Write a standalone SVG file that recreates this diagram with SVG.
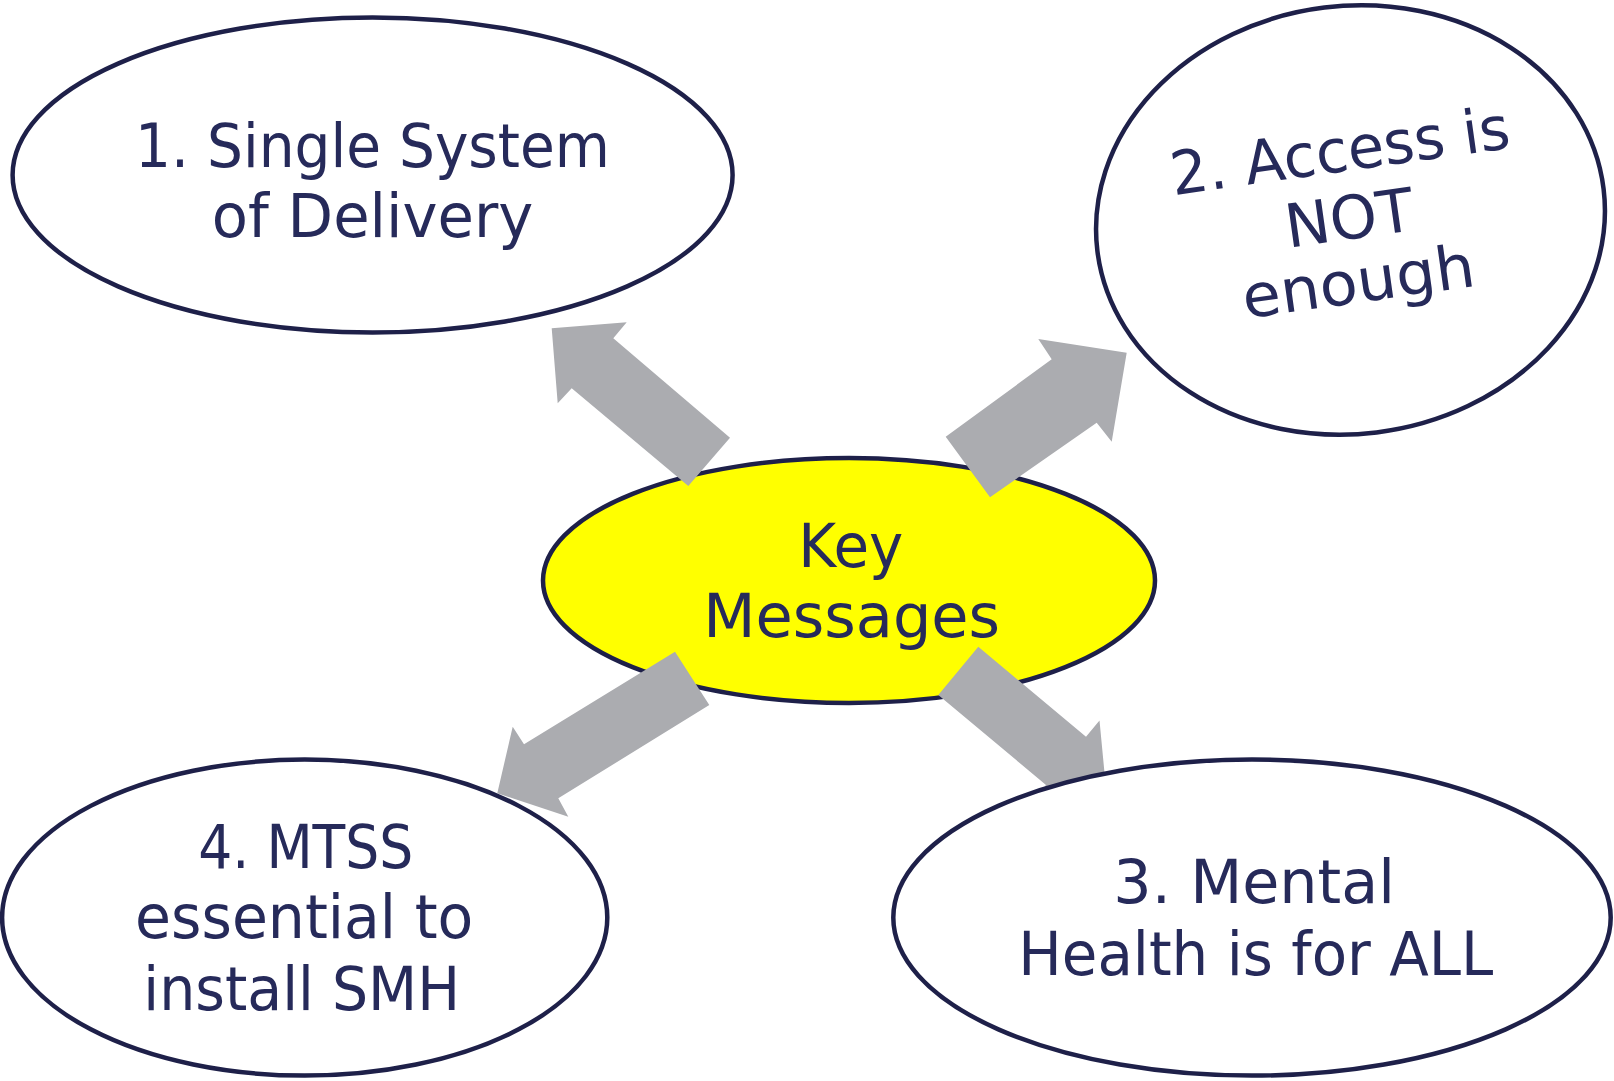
<svg xmlns="http://www.w3.org/2000/svg" width="1614" height="1081" viewBox="0 0 1614 1081">
<style>
.node{fill:#ffffff;stroke:#1e2049;stroke-width:4.5}
.key{fill:#ffff00;stroke:#1e2049;stroke-width:4.5}
.t{font-family:"DejaVu Sans","Liberation Sans",sans-serif;font-size:60px;fill:#262a5a;text-anchor:middle}
.arrow{fill:#abacb0;stroke:none}
</style>
<rect x="0" y="0" width="1614" height="1081" fill="#ffffff"/>
<g id="key-messages">
<ellipse class="key" cx="849" cy="580.5" rx="306" ry="122.5"/>
<text class="t" x="850.8" y="566.7" textLength="105" lengthAdjust="spacingAndGlyphs">Key</text>
<text class="t" x="851.7" y="636.7" textLength="296.7" lengthAdjust="spacingAndGlyphs">Messages</text>
</g>
<g id="connectors">
<polygon class="arrow" points="730,437.7 613.3,338.3 626.7,322.3 551.7,328.3 557.7,403.3 571.7,388.3 688.3,486"/>
<polygon class="arrow" points="945.7,436.7 1051.7,359.3 1038.3,339 1126.7,352.7 1111.7,441.7 1096.7,422.7 990,497.3"/>
<polygon class="arrow" points="978.3,646.7 1086,736.7 1099.5,720.6 1106.6,794.7 1032.3,800.9 1046,785 938.3,695"/>
<polygon class="arrow" points="675,651.7 524,744.3 512.7,726.7 497.3,793.3 568.3,816.7 558.3,798.3 709.3,705"/>
</g>
<g id="node1">
<ellipse class="node" cx="372.6" cy="175" rx="360" ry="157.5"/>
<text class="t" x="372.5" y="166.7" textLength="475" lengthAdjust="spacingAndGlyphs">1. Single System</text>
<text class="t" x="372.5" y="236.7" textLength="321.6" lengthAdjust="spacingAndGlyphs">of Delivery</text>
</g>
<g id="node2">
<ellipse class="node" cx="1350.5" cy="220" rx="255" ry="214" transform="rotate(-7 1350.5 220)"/>
<g transform="rotate(-8 1349 216)">
<text class="t" x="1349" y="171" textLength="342" lengthAdjust="spacingAndGlyphs">2. Access is</text>
<text class="t" x="1349" y="239" textLength="129" lengthAdjust="spacingAndGlyphs">NOT</text>
<text class="t" x="1349" y="303" textLength="234" lengthAdjust="spacingAndGlyphs">enough</text>
</g>
</g>
<g id="node3">
<ellipse class="node" cx="1252" cy="917.6" rx="358.7" ry="158"/>
<text class="t" x="1254.2" y="903.3" textLength="281.7" lengthAdjust="spacingAndGlyphs">3. Mental</text>
<text class="t" x="1255.8" y="975" textLength="475" lengthAdjust="spacingAndGlyphs">Health is for ALL</text>
</g>
<g id="node4">
<ellipse class="node" cx="304.7" cy="917.6" rx="302.6" ry="158"/>
<text class="t" x="305.8" y="868.3" textLength="215" lengthAdjust="spacingAndGlyphs">4. MTSS</text>
<text class="t" x="304.2" y="938.3" textLength="338.3" lengthAdjust="spacingAndGlyphs">essential to</text>
<text class="t" x="301.7" y="1010" textLength="316.7" lengthAdjust="spacingAndGlyphs">install SMH</text>
</g>
</svg>
